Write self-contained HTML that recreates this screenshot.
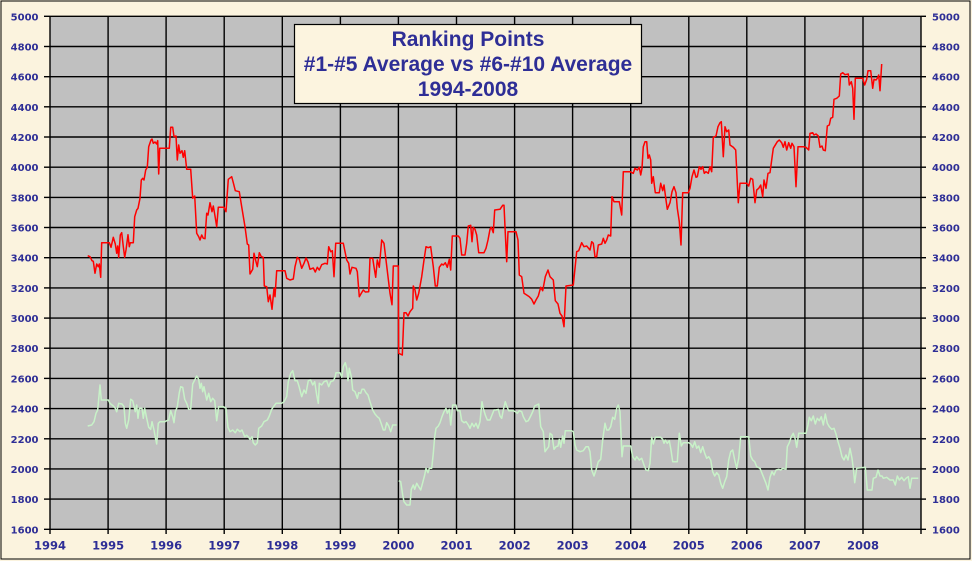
<!DOCTYPE html>
<html><head><meta charset="utf-8"><style>
html,body{margin:0;padding:0;background:#fbf3de;}
svg{display:block;}
.yl{font-family:"DejaVu Sans","Liberation Sans",sans-serif;font-weight:bold;font-size:10px;fill:#2e2e96;}
.xl{font-family:"DejaVu Sans","Liberation Sans",sans-serif;font-weight:bold;font-size:11.5px;fill:#2e2e96;}
.tt{font-family:"Liberation Sans",Arial,sans-serif;font-weight:bold;font-size:21px;fill:#2e2e96;}
</style></head><body>
<svg width="972" height="561" viewBox="0 0 972 561" xmlns="http://www.w3.org/2000/svg">
<rect x="0" y="0" width="972" height="561" fill="#fbf3de"/>
<rect x="1" y="1" width="969" height="558" fill="none" stroke="#000" stroke-width="1"/>
<rect x="50" y="16.3" width="871" height="513" fill="#c0c0c0"/>
<g stroke="#000" stroke-width="1.4">
<line x1="50" y1="16.3" x2="921" y2="16.3"/><line x1="50" y1="46.5" x2="921" y2="46.5"/><line x1="50" y1="76.7" x2="921" y2="76.7"/><line x1="50" y1="106.8" x2="921" y2="106.8"/><line x1="50" y1="137" x2="921" y2="137"/><line x1="50" y1="167.2" x2="921" y2="167.2"/><line x1="50" y1="197.4" x2="921" y2="197.4"/><line x1="50" y1="227.5" x2="921" y2="227.5"/><line x1="50" y1="257.7" x2="921" y2="257.7"/><line x1="50" y1="287.9" x2="921" y2="287.9"/><line x1="50" y1="318.1" x2="921" y2="318.1"/><line x1="50" y1="348.2" x2="921" y2="348.2"/><line x1="50" y1="378.4" x2="921" y2="378.4"/><line x1="50" y1="408.6" x2="921" y2="408.6"/><line x1="50" y1="438.8" x2="921" y2="438.8"/><line x1="50" y1="468.9" x2="921" y2="468.9"/><line x1="50" y1="499.1" x2="921" y2="499.1"/><line x1="44" y1="529.3" x2="926" y2="529.3"/>
<line x1="50" y1="16.3" x2="50" y2="534"/><line x1="108.1" y1="16.3" x2="108.1" y2="534"/><line x1="166.1" y1="16.3" x2="166.1" y2="534"/><line x1="224.2" y1="16.3" x2="224.2" y2="534"/><line x1="282.3" y1="16.3" x2="282.3" y2="534"/><line x1="340.4" y1="16.3" x2="340.4" y2="534"/><line x1="398.4" y1="16.3" x2="398.4" y2="534"/><line x1="456.5" y1="16.3" x2="456.5" y2="534"/><line x1="514.6" y1="16.3" x2="514.6" y2="534"/><line x1="572.6" y1="16.3" x2="572.6" y2="534"/><line x1="630.7" y1="16.3" x2="630.7" y2="534"/><line x1="688.8" y1="16.3" x2="688.8" y2="534"/><line x1="746.8" y1="16.3" x2="746.8" y2="534"/><line x1="804.9" y1="16.3" x2="804.9" y2="534"/><line x1="863" y1="16.3" x2="863" y2="534"/><line x1="921" y1="16.3" x2="921" y2="534"/>
<line x1="44" y1="16.3" x2="50" y2="16.3"/><line x1="44" y1="46.5" x2="50" y2="46.5"/><line x1="44" y1="76.7" x2="50" y2="76.7"/><line x1="44" y1="106.8" x2="50" y2="106.8"/><line x1="44" y1="137" x2="50" y2="137"/><line x1="44" y1="167.2" x2="50" y2="167.2"/><line x1="44" y1="197.4" x2="50" y2="197.4"/><line x1="44" y1="227.5" x2="50" y2="227.5"/><line x1="44" y1="257.7" x2="50" y2="257.7"/><line x1="44" y1="287.9" x2="50" y2="287.9"/><line x1="44" y1="318.1" x2="50" y2="318.1"/><line x1="44" y1="348.2" x2="50" y2="348.2"/><line x1="44" y1="378.4" x2="50" y2="378.4"/><line x1="44" y1="408.6" x2="50" y2="408.6"/><line x1="44" y1="438.8" x2="50" y2="438.8"/><line x1="44" y1="468.9" x2="50" y2="468.9"/><line x1="44" y1="499.1" x2="50" y2="499.1"/>
<line x1="921" y1="16.3" x2="926" y2="16.3"/><line x1="921" y1="46.5" x2="926" y2="46.5"/><line x1="921" y1="76.7" x2="926" y2="76.7"/><line x1="921" y1="106.8" x2="926" y2="106.8"/><line x1="921" y1="137" x2="926" y2="137"/><line x1="921" y1="167.2" x2="926" y2="167.2"/><line x1="921" y1="197.4" x2="926" y2="197.4"/><line x1="921" y1="227.5" x2="926" y2="227.5"/><line x1="921" y1="257.7" x2="926" y2="257.7"/><line x1="921" y1="287.9" x2="926" y2="287.9"/><line x1="921" y1="318.1" x2="926" y2="318.1"/><line x1="921" y1="348.2" x2="926" y2="348.2"/><line x1="921" y1="378.4" x2="926" y2="378.4"/><line x1="921" y1="408.6" x2="926" y2="408.6"/><line x1="921" y1="438.8" x2="926" y2="438.8"/><line x1="921" y1="468.9" x2="926" y2="468.9"/><line x1="921" y1="499.1" x2="926" y2="499.1"/>
</g>
<g class="yl" text-anchor="end">
<text x="38.5" y="20.3">5000</text><text x="38.5" y="50.5">4800</text><text x="38.5" y="80.7">4600</text><text x="38.5" y="110.8">4400</text><text x="38.5" y="141">4200</text><text x="38.5" y="171.2">4000</text><text x="38.5" y="201.4">3800</text><text x="38.5" y="231.5">3600</text><text x="38.5" y="261.7">3400</text><text x="38.5" y="291.9">3200</text><text x="38.5" y="322.1">3000</text><text x="38.5" y="352.2">2800</text><text x="38.5" y="382.4">2600</text><text x="38.5" y="412.6">2400</text><text x="38.5" y="442.8">2200</text><text x="38.5" y="472.9">2000</text><text x="38.5" y="503.1">1800</text><text x="38.5" y="533.3">1600</text>
</g>
<g class="yl" text-anchor="start">
<text x="932" y="20.3">5000</text><text x="932" y="50.5">4800</text><text x="932" y="80.7">4600</text><text x="932" y="110.8">4400</text><text x="932" y="141">4200</text><text x="932" y="171.2">4000</text><text x="932" y="201.4">3800</text><text x="932" y="231.5">3600</text><text x="932" y="261.7">3400</text><text x="932" y="291.9">3200</text><text x="932" y="322.1">3000</text><text x="932" y="352.2">2800</text><text x="932" y="382.4">2600</text><text x="932" y="412.6">2400</text><text x="932" y="442.8">2200</text><text x="932" y="472.9">2000</text><text x="932" y="503.1">1800</text><text x="932" y="533.3">1600</text>
</g>
<g class="xl" text-anchor="middle">
<text x="50" y="549.5">1994</text><text x="108.1" y="549.5">1995</text><text x="166.1" y="549.5">1996</text><text x="224.2" y="549.5">1997</text><text x="282.3" y="549.5">1998</text><text x="340.4" y="549.5">1999</text><text x="398.4" y="549.5">2000</text><text x="456.5" y="549.5">2001</text><text x="514.6" y="549.5">2002</text><text x="572.6" y="549.5">2003</text><text x="630.7" y="549.5">2004</text><text x="688.8" y="549.5">2005</text><text x="746.8" y="549.5">2006</text><text x="804.9" y="549.5">2007</text><text x="863" y="549.5">2008</text>
</g>
<g fill="none" stroke="#c8f2c8" stroke-width="1.5" stroke-linejoin="round">
<polyline points="87.7,426 91.7,425 94,421.7 96,413.3 97.7,410 100,385 101.3,400 108.3,400 110,403.3 113.3,406 115.3,408.3 116.7,411.7 118.7,403.3 122,404 124,406.7 125.3,423.3 126.7,428.3 128.7,420 130.7,399.3 132.7,400.7 135.3,411.7 136.7,405 138,418.3 139.3,408.3 142,408.3 143.3,418.3 144.7,408.3 146.7,418.3 148.7,427.3 150.7,429.3 152,421.7 154,430 155.3,437.3 156.7,444 158.3,423.3 160,421.7 165,421.7 166.7,420.7 168.7,420 170.7,410.7 172.7,416.7 174,422.7 175.3,411.7 177.3,406.7 179.3,392.7 180.7,386.7 182.7,387.3 184.7,399.3 186.7,403.3 188.7,409.3 190.7,409.3 192.7,384 194.7,380 196.7,376 198.7,379.3 200,388.3 201.3,383.3 202.7,391.7 204,386.7 205.3,393.3 206.7,400 208.7,393.3 210.7,401.7 212.7,398.3 214.7,400.7 216.7,420.7 218.7,406.7 223.3,406.7 226,408.3 228,427.3 230,431.7 232.7,430 235.3,432.7 237.3,429.3 240,431.7 242,430 244.7,436.7 246.7,435.3 248.7,437.3 250,439.3 252,436.7 253.3,442.7 255.3,445 257.3,442.7 258.7,428.3 261.7,426 264,421.7 267.3,420 269.3,416 271.7,409.3 274,406 276,403.3 281.7,403.3 284,401.7 286.7,396.7 288.3,381.7 290.7,373.3 292.7,370.7 295,380.7 297.3,380.7 299.3,387.3 301.7,396.7 304,390 306,393.3 308.3,380.7 310.7,380 312.7,385 314.7,381.7 316.7,395 318.3,403.3 319.3,383.3 321.7,385 324,381.7 326.7,380.7 328.7,386.7 330.7,381.7 333.3,380.7 335,377.3 336,372.7 340,372.7 341.7,377.3 343.3,366.7 345.3,362.7 346.7,368.3 348,380.7 349.3,368.3 351.3,376.7 352.7,390 355,391.7 357.3,398.3 358.7,392.7 360.7,393.3 362,389.3 364,389.3 366,392.7 368,395 370,401.7 372.7,410 375,414 377.3,416.7 379.3,418.3 381.7,425 383.3,430 385,430 386.7,422.7 388.7,426 390.7,431.7 392.7,425 396.7,425"/>
<polyline points="398.7,480.7 400.7,481.7 402.7,495 404,501.7 406.7,505 410,505 411.3,489.3 413.3,485 414.7,489.3 416.7,483.3 418.7,486.7 420.7,490 422.7,482.7 424.7,475 426,468.3 428,472.7 429.3,468.3 431.7,468.3 433.3,453.3 434.7,436.7 436,428.3 438.3,426 440,422.7 442,416.7 444,411.7 446,408.3 447.3,413.3 449.3,409.3 450.7,425 452.7,405 456,405 457.3,410.7 460,410.7 461.7,420.7 464,422.7 466,421.7 468.3,425 470,428.3 472,423.3 474,426.7 476,423.3 478,428.3 480,421.7 482,401.7 483.3,408.3 485.3,415 487.3,420 490,420 492,415 494,410 496,410 498.3,409.3 500,416 501.7,418.3 503.3,410 505.3,401.7 506.7,406 508.7,410.7 513.3,410.7 515.3,411.7 517.3,413.3 519.3,410.7 521.7,411.7 523.3,416.7 526,421.7 528.3,420.7 530.7,416 532.7,411.7 534.7,406 538.7,404 540.7,426.7 543.3,431.7 545,451.7 546.7,449.3 548.7,446.7 550,433.3 552,435 554,449.3 556,446.7 558,446 559.3,439.3 560.7,447.3 562.7,436 564,443.3 565.3,430.7 571.7,430.7 573.3,431.7 575,445 576.7,450 580,451.7 583.3,450.7 586,446.7 588.3,446.7 590,451.7 591.7,470 594,476 596,470 598.3,461.7 600.7,459.3 602.7,440 605,423.3 606.7,430 608.7,430 610.7,426.7 612.7,417.3 614.7,419.3 616.7,408.3 618.3,405 620,411.7 622,456.7 623.3,446 630.7,446 632.7,456.7 635,460 636.7,456.7 639.3,460 641.7,458.3 644,465 646,470 648.3,470.7 650,463.3 651.7,437.3 653.3,444 655.3,437.3 660.7,437.3 662.7,439.3 664,443.3 665.3,440 667.3,443.3 669.3,440.7 671,450 672.7,461.7 677.3,461.7 679.3,433.3 681.3,446 683.3,442.7 688.7,442.7 690.7,444 692.7,447.3 694.7,441.7 696.7,448.3 698.7,446 700.7,452.7 702.7,446.7 704.7,453.3 706.7,458.3 708.7,456.7 710.7,460 712.7,471.7 714.7,476 716.7,472.7 718.7,475 720.7,483.3 722.7,488.3 724.7,481.7 726.7,476.7 728.7,460 730.7,451.7 732.7,450 734.7,460 736.7,468.3 738.7,458.3 740.7,436.7 748.7,436.7 750.7,456 752.7,460 754.7,461.7 756.7,466.7 760,468.3 762,473.3 764,478.3 766,483.3 768,490 770,477.3 772,471.7 774,475 776,470 778.7,469.3 780.7,470 782.7,468.3 786,469.3 787.3,446.7 789.3,442.7 791.3,436.7 793.3,433.3 795.3,439.3 796.7,447.3 798.7,433.3 806,433.3 808,425 809.3,417.3 811.3,420.7 813.3,416 815.3,424 817.3,418.3 819.3,420.7 821.3,416.7 823.3,425 825.3,414 827.3,423.3 829.3,426.7 831.7,429.3 834,428.3 836,434 838,441.7 840,448.3 842,456.7 844,460 846,455 848,460 850,448.3 852,458.3 853.3,468.3 854.7,482.7 856.7,468.3 865.3,467.3 867.3,490 872,490 873.3,478.3 876,477.3 878,470 880,476 882,476 883.3,478.3 886.7,477.3 890,480 893.3,480 895.3,485 897.3,476 899.3,480 901.7,477.3 904,480.7 906,478.3 908.3,476.7 910,488.3 911.7,478.3 913.3,478.3 918.3,478.3"/>
</g>
<polyline fill="none" stroke="#ff0000" stroke-width="1.5" stroke-linejoin="round" points="87.7,255.7 90,256.7 92,260.7 93.3,261.3 95,273.3 96.7,264 98.3,266.7 99.3,264 100.7,277.3 101.7,242.7 109.3,242.7 111,247.3 113.3,237.3 115.3,244 116.7,253.3 117.7,246 118.7,257.3 120.3,235 121.7,232.7 123.3,246.7 124.7,257.3 126,250 128,234.7 129.3,246.7 130.3,242.7 133.3,242.7 134.7,216.7 136.7,210 138,208.3 140,198.3 141.3,180 142.7,178.3 144,180 145.7,170 147.3,167.3 148.7,146.7 151,140 152,139 153.3,143.3 155,142 156.7,144 157.7,140.7 158.7,174 159.7,148.3 169.3,148.3 170.7,127.3 172.7,127.3 174,136.7 176,136 177.3,160 178.7,145 180,153.3 182,150.7 183.3,157.3 184.7,150.7 186.7,169.3 190.7,169.3 192.7,198.3 194.7,196 196.7,233.3 198.7,236.7 200,240 201.7,235 203.3,238.3 205,238.7 206.7,213.3 208,215 210,202.7 212,211.7 213.3,206 215,216 216.7,226.7 218.3,207.3 224,207.3 226,211.7 228.3,179.3 231.7,176.7 233.3,182.7 235.3,190.7 239.3,191.7 241.7,206.7 245,226.7 247.3,244 248.7,245 250,274 252.7,269.3 254,253.3 256,261.7 257.3,266.7 259.3,252.7 261.3,256.7 263.3,257.3 264.3,286 266.7,286.7 268.3,301.7 270,295 272,309.3 274,288.3 275,296.7 276.7,270.7 285,270.7 286.7,278.3 290,280 293.3,279 295,266.7 297.3,257.3 299.3,259.3 301.7,268.3 304,263.3 306,258 308,262 310,269.3 313.3,268 315.3,272 317.3,267.3 319.3,270 321.7,264.7 325,263.3 327.3,264 328.7,246.7 330.7,251.7 332.3,250.7 334,276.7 335.7,243.3 343.3,243.3 346.7,260 348.7,263.3 350,274 352,267.3 356,268.3 357.3,271.7 359.3,296.7 361.3,293.3 363.3,290 365.3,292 368.7,291.7 370,258.3 372.7,258.3 374,266.7 375.7,277.3 377.3,260 379.3,267.3 381.7,240 384,243.3 386,260 388,276.7 390,293.3 392,304.7 393.3,266 398.3,266 398.7,353.3 402.3,355 404,312.7 406,312.7 408,316 410,311.7 412.7,308.3 413.3,286 415,290 416.7,300 418.7,293.3 421.7,276.7 424,260 426,246.7 428.3,247.7 430.7,246.7 433.3,266.7 435.3,286 437.3,286 439.3,267.3 441.7,264 443.3,265 445.3,262.7 447.3,267.3 449.3,259.3 450.7,270 452.3,236 458.3,236 460,238.3 461.7,255 465,255 466.7,243.3 468.3,226 470.7,225.3 472,241.7 473.3,227.3 475,229.3 476.7,235 478.7,252.7 484,252.7 486,248.3 488,240 490,229.3 491.3,227.3 493.3,232.7 494.7,210 500,209.3 502.7,205.3 504,205.3 505.3,233.3 506.7,261.7 508,231.7 516,231.7 518,240 519.3,275 521.7,276.7 524,293.3 526.7,295 529.3,296.7 531.7,299.3 534,304 536,300 538.3,296 540.7,287.3 542.7,290.7 545.3,276.7 548,270 550,276.7 553.3,280 555.3,300.7 558,304 560,313.3 562,316 564,326.7 566,286 573.3,285 576.7,251.7 578.7,250.7 581.7,242.7 584,246.7 586.7,246 590,250 591.7,241.7 593.3,243.3 595,256.7 596.7,256.7 598.3,245 601.7,244 603.3,238.3 605,243.3 606.7,240 608.3,235 610.7,236 612,196.7 614,201.7 619.3,201.7 621.7,215 623.3,171.7 630,171.7 633.3,173.3 635,168.3 637.3,170 639.3,167.3 640.7,175 642,168.3 643.3,146.7 645,141.7 646.7,141.7 648,158.3 649.3,155 650.7,160 651.7,183.3 653.3,176.7 655.3,192.7 659.3,192.7 660.7,183.3 662.7,190.7 664,185 666,200 667.3,209.3 670,202.7 672,191.7 674,186.7 676,192.7 677.3,208.3 679.3,221.7 681,245 682.7,192.7 688.3,192.7 690,188.3 692,176.7 694,170 696,177.3 697.3,176.7 699.3,166.7 701,169.3 702.7,166.7 704.3,173.3 706,171.7 708.3,173.3 710,166.7 711.7,171.7 713.3,137.3 716,136 718,126.7 720,122.7 721.3,121.7 723.3,156.7 725,126.7 726.7,131.7 728.7,130 730,145 733.3,147.3 735.7,150 738.3,202.7 740,183.3 746.7,183.3 748.7,186 750.7,178.3 752.7,179.3 755,202.7 756.7,190 758.7,188.3 760.7,185 762.7,196.7 764,180 766,188.3 768,173.3 770,172.7 771.7,160 773.3,148.3 777.3,141.7 779.3,140 781.7,142.7 783.3,147.3 785,141.7 786.7,150 788.7,142.7 790.7,148.3 792,143.3 794,146.7 796,186.7 798,146.7 803.3,146.7 806,147.3 808.7,150 810,133.3 812.7,132.7 814,135 816,134 818.3,136 820,147.3 822,146 823.3,150 825.3,150.7 827.3,126 829.3,125 830.7,118.3 832.7,117.3 834,99.3 836.7,98.3 839.3,96 840.7,74 842.7,72.7 845,74.7 848.3,74 849.3,85 851.3,81.7 852.7,88.3 854,119.3 855.3,78.3 862.7,78.3 864.7,85 866.7,79.3 868,70.7 870.7,70.7 872.7,88.3 874,79.3 876,80 877.3,78.3 878.7,75 880,90.7 881.7,64"/>
<rect x="294.5" y="24.5" width="347" height="79" fill="#fcf4df" stroke="#000" stroke-width="1.2"/>
<g class="tt" text-anchor="middle">
<text x="468" y="46">Ranking Points</text>
<text x="468" y="71">#1-#5 Average vs #6-#10 Average</text>
<text x="468" y="96">1994-2008</text>
</g>
</svg>
</body></html>
